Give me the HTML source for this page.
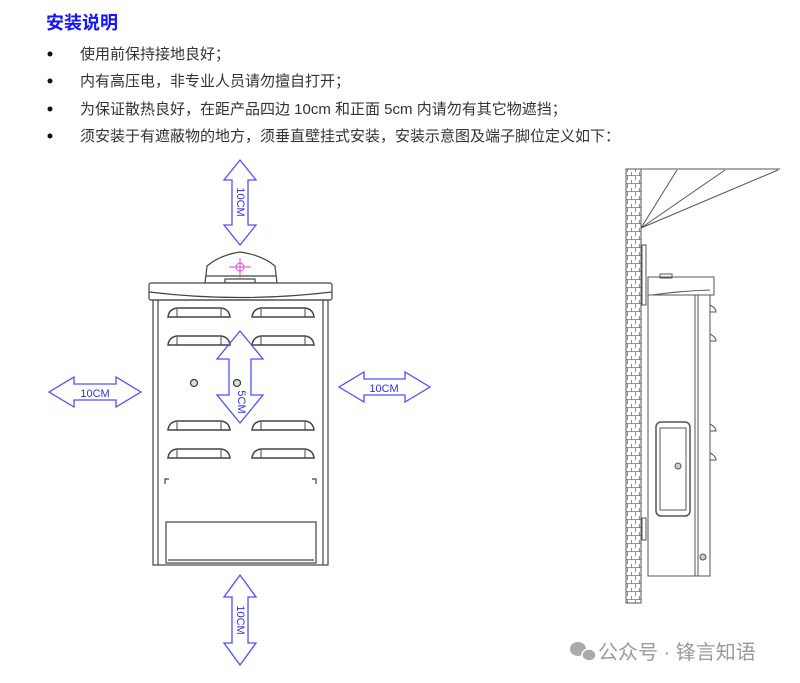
<!DOCTYPE html>
<html><head><meta charset="utf-8"><style>
html,body{margin:0;padding:0;background:#fff;width:800px;height:683px;overflow:hidden}
</style></head><body>
<svg width="800" height="683" viewBox="0 0 800 683" xmlns="http://www.w3.org/2000/svg" style="display:block">
<defs>
<g id="slot"><path d="M0 9 Q1 1 9 0 H53 Q61 1 62 9 Z" fill="none" stroke="#444" stroke-width="1.5"/><path d="M9 1 V9 M53 1 V9" stroke="#444" stroke-width="1"/></g>
<pattern id="br" width="8" height="8" patternUnits="userSpaceOnUse"><path d="M0 7.5H8 M3.5 0V4 M7.5 4V8" stroke="#777" stroke-width="0.8" fill="none"/></pattern>
</defs>
<g font-family="'Liberation Sans','Noto Sans CJK SC',sans-serif">
<text x="46" y="29" font-size="18" font-weight="bold" fill="#1414ff">安装说明</text>
<g font-size="15" fill="#333">
<circle cx="50" cy="54" r="2.5" fill="#111"/><text x="80" y="59">使用前保持接地良好；</text>
<circle cx="50" cy="81" r="2.5" fill="#111"/><text x="80" y="86">内有高压电，非专业人员请勿擅自打开；</text>
<circle cx="50" cy="109" r="2.5" fill="#111"/><text x="80" y="114">为保证散热良好，在距产品四边 10cm 和正面 5cm 内请勿有其它物遮挡；</text>
<circle cx="50" cy="136" r="2.5" fill="#111"/><text x="80" y="141">须安装于有遮蔽物的地方，须垂直壁挂式安装，安装示意图及端子脚位定义如下：</text>
</g>
</g>
<!-- front view -->
<g fill="none" stroke="#444" stroke-width="1.2">
<path d="M205 283 L207 266 Q220 255 240 252 Q262 255 275 266 L277 283 Z" fill="#fff"/>
<line x1="206" y1="276" x2="276" y2="276"/>
<rect x="225" y="279" width="30" height="4"/>
<rect x="149" y="283" width="183" height="17" rx="2" fill="#fff"/>
<path d="M149 292 Q240 303 332 292" />
<rect x="153" y="300" width="175" height="265"/>
<line x1="158" y1="300" x2="158" y2="565"/>
<line x1="323" y1="300" x2="323" y2="565"/>
<rect x="166" y="522" width="150" height="41"/>
<line x1="168" y1="560" x2="314" y2="560"/>
<path d="M165 484 V479 H169 M316 484 V479 H312"/>
</g>
<use href="#slot" x="168" y="308"/><use href="#slot" x="252" y="308"/>
<use href="#slot" x="168" y="336"/><use href="#slot" x="252" y="336"/>
<use href="#slot" x="168" y="421"/><use href="#slot" x="252" y="421"/>
<use href="#slot" x="168" y="449"/><use href="#slot" x="252" y="449"/>
<g fill="#ddd" stroke="#444" stroke-width="1.3"><circle cx="194" cy="383" r="3.5"/><circle cx="237" cy="383" r="3.5"/></g>
<g stroke="#e040e0" stroke-width="1" fill="none"><line x1="229" y1="267" x2="251" y2="267"/><line x1="240" y1="258" x2="240" y2="278"/><circle cx="240" cy="267" r="4"/></g>
<!-- arrows -->
<g fill="none" stroke="#5050ff" stroke-width="1.3">
<polygon points="240,160 256,180 248,180 248,225 256,225 240,245 224,225 232,225 232,180 224,180"/>
<polygon points="240,575 256,597 248,597 248,643 256,643 240,665 224,643 232,643 232,597 224,597"/>
<polygon points="240,331 263,359 251,359 251,395 263,395 240,423 217,395 229,395 229,359 217,359"/>
<polygon points="49,392 74,377 74,384 116,384 116,377 141,392 116,407 116,400 74,400 74,407"/>
<polygon points="339,387 364,372 364,379 405,379 405,372 430,387 405,402 405,395 364,395 364,402"/>
</g>
<g font-family="'Liberation Sans',sans-serif" font-size="11" fill="#3030ee">
<text x="95" y="397" text-anchor="middle">10CM</text>
<text x="384" y="392" text-anchor="middle">10CM</text>
<text transform="translate(237,202) rotate(90)" text-anchor="middle">10CM</text>
<text transform="translate(237,620) rotate(90)" text-anchor="middle">10CM</text>
<text transform="translate(238,402) rotate(90)" text-anchor="middle">5CM</text>
</g>
<!-- side view -->
<rect x="626" y="169" width="15" height="434" fill="url(#br)" stroke="#555" stroke-width="1"/>
<g fill="none" stroke="#555" stroke-width="1">
<line x1="641" y1="169" x2="780" y2="169"/>
<line x1="641" y1="228" x2="677" y2="170"/><line x1="641" y1="228" x2="725" y2="170"/><line x1="641" y1="228" x2="778" y2="170"/>
<rect x="642" y="245" width="4" height="60"/>
<rect x="642" y="518" width="4" height="22"/>
<rect x="648" y="277" width="66" height="18" fill="#fff"/>
<path d="M652 295 Q680 291 710 290"/>
<rect x="648" y="295" width="62" height="281"/>
<line x1="695" y1="295" x2="695" y2="576"/><line x1="698" y1="295" x2="698" y2="576"/>
<path d="M710 305 Q716 308 716 312 H710 M710 334 Q716 337 716 341 H710 M710 424 Q716 427 716 431 H710 M710 453 Q716 456 716 460 H710"/>
<rect x="656" y="422" width="34" height="94" rx="5" stroke-width="1.5"/>
<rect x="660" y="428" width="26" height="82"/>
<circle cx="678" cy="466" r="3" fill="#ccc"/><circle cx="703" cy="557" r="3" fill="#ccc"/>
<rect x="660" y="274" width="12" height="4"/>
</g>
<!-- watermark -->
<g fill="#aaa"><ellipse cx="578" cy="649" rx="8" ry="7"/><ellipse cx="589" cy="655" rx="7" ry="6" stroke="#fff" stroke-width="1.5"/></g>
<text x="598" y="659" font-family="'Liberation Sans','Noto Sans CJK SC',sans-serif" font-size="20" fill="#9a9a9a">公众号 · 锋言知语</text>
</svg>
</body></html>
